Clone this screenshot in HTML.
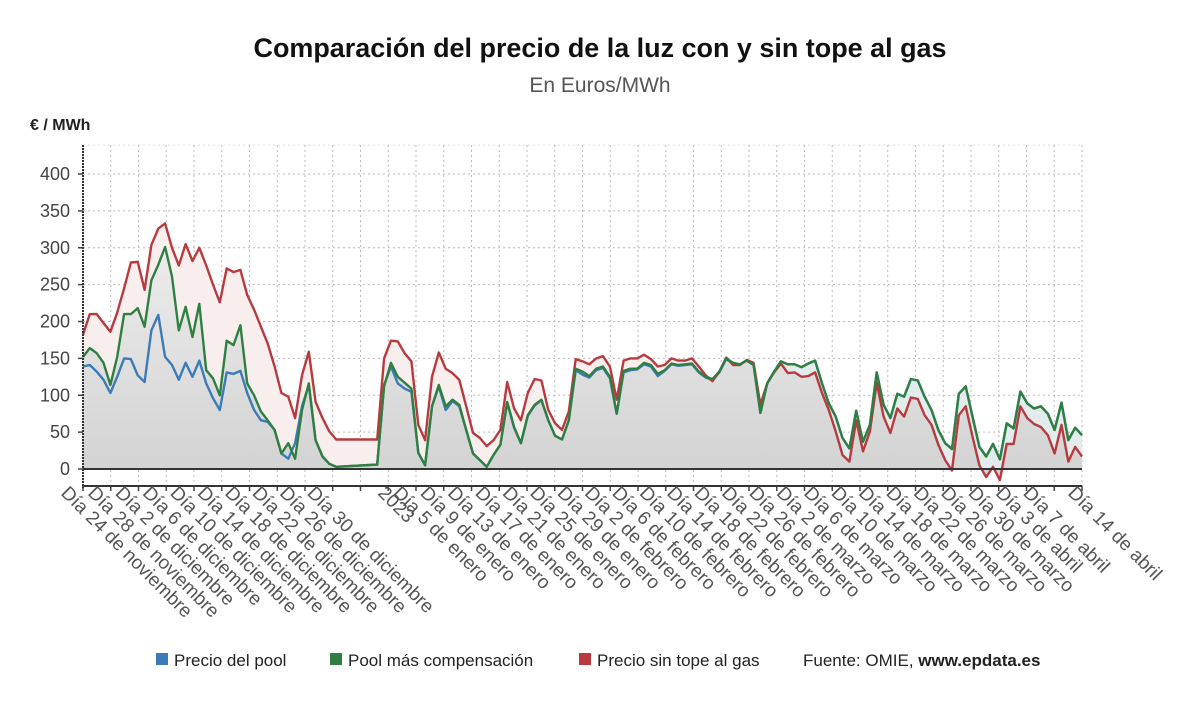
<!DOCTYPE html>
<html><head><meta charset="utf-8">
<style>
html,body{margin:0;padding:0;background:#fff;width:1200px;height:705px;overflow:hidden;font-family:"Liberation Sans",sans-serif;}
svg text{font-family:"Liberation Sans",sans-serif;}
</style></head>
<body>
<svg id="chart" width="1200" height="705" viewBox="0 0 1200 705" xmlns="http://www.w3.org/2000/svg">
<defs>
<linearGradient id="grayGrad" x1="0" y1="0" x2="0" y2="1">
<stop offset="0" stop-color="#ececec"/><stop offset="1" stop-color="#d2d2d2"/>
</linearGradient>
</defs>
<text x="600" y="57" text-anchor="middle" font-size="27" font-weight="bold" fill="#111" textLength="693" lengthAdjust="spacingAndGlyphs">Comparación del precio de la luz con y sin tope al gas</text>
<text x="600" y="92" text-anchor="middle" font-size="21" fill="#555">En Euros/MWh</text>
<text x="30" y="130" font-size="16" font-weight="bold" fill="#222">€ / MWh</text>
<g id="grid"></g>
<g id="areas"></g>
<g id="lines"></g>
<g id="axes"></g>
<g id="xlabels"></g>
<g>
<rect x="156" y="653" width="12" height="12" fill="#3b7bb8"/>
<text x="174" y="666" font-size="17" fill="#222">Precio del pool</text>
<rect x="330" y="653" width="12" height="12" fill="#2f8040"/>
<text x="348" y="666" font-size="17" fill="#222">Pool más compensación</text>
<rect x="579" y="653" width="12" height="12" fill="#b83a3e"/>
<text x="597" y="666" font-size="17" fill="#222">Precio sin tope al gas</text>
<text x="803" y="666" font-size="17" fill="#222">Fuente: OMIE, <tspan font-weight="bold">www.epdata.es</tspan></text>
</g>
</svg>
<script>
const redVals=[182,210,210,198,186,212,245,280,281,243,304,326,333,300,276,305,282,300,276,250,226,272,267,270,
236,216,193,170,139,103,98,69,127,159,91,69,51,40,40,40,40,40,40,40,150,174,173,157,146,60,39,125,158,136,130,121,85,49,42,31,39,53,118,82,66,103,122,120,80,62,53,78,
149,146,142,150,153,139,94,147,150,150,155,149,139,141,150,147,147,150,139,127,119,132,151,141,
141,148,144,87,116,131,143,130,131,125,126,131,103,80,51,19,10,66,24,51,117,71,49,82,
71,97,95,73,60,33,12,-2,73,85,44,5,-11,3,-15,34,34,85,69,61,57,46,21,60,10,30,17];
const greenVals=[152,164,157,144,114,152,210,210,218,193,256,277,301,261,188,220,179,224,134,123,100,174,168,195,
116,100,78,66,53,21,35,14,80,116,39,17,7,3,3.5,4,4.5,5,5.5,6,112,144,125,117,109,22,5,85,114,85,94,87,53,21,12,3,19,33,91,57,35,73,87,94,66,45,40,66,
136,132,126,136,139,125,75,133,136,136,144,141,129,134,143,141,142,143,132,125,122,132,150,144,
142,147,141,76,116,132,146,142,142,138,143,147,116,89,71,42,28,79,37,60,131,87,69,102,
98,122,120,98,80,53,35,27,102,112,71,30,17,34,13,62,55,105,89,82,85,75,53,90,39,56,46];
const blueVals=[139,141,132,121,103,125,150,149,127,118,188,209,152,141,121,144,125,147,116,96,80,131,129,133,
103,80,66,64,53,21,14,35,85,114,39,17,7,3,3.5,4,4.5,5,5.5,6,114,139,116,109,105,22,5,85,112,80,92,85,53,21,12,3,19,33,90,56,35,72,86,93,66,45,40,66,
134,128,124,134,137,123,75,131,134,135,142,139,126,133,142,140,141,142,131,124,121,131,149,143,
142,147,141,76,116,132,146,142,142,138,143,147,116,89,71,42,28,79,37,60,131,87,69,102,
98,122,120,98,80,53,35,27,102,112,71,30,17,34,13,62,55,105,89,82,85,75,53,90,39,56,46];
const yTicks=[0,50,100,150,200,250,300,350,400];
const labelsPre=["Día 28 de noviembre","Día 2 de diciembre","Día 6 de diciembre","Día 10 de diciembre","Día 14 de diciembre","Día 18 de diciembre","Día 22 de diciembre","Día 26 de diciembre","Día 30 de diciembre"];
const labelsPost=["Día 5 de enero","Día 9 de enero","Día 13 de enero","Día 17 de enero","Día 21 de enero","Día 25 de enero","Día 29 de enero","Día 2 de febrero","Día 6 de febrero","Día 10 de febrero","Día 14 de febrero","Día 18 de febrero","Día 22 de febrero","Día 26 de febrero","Día 2 de marzo","Día 6 de marzo","Día 10 de marzo","Día 14 de marzo","Día 18 de marzo","Día 22 de marzo","Día 26 de marzo","Día 30 de marzo","Día 3 de abril","Día 7 de abril"];
const NS="http://www.w3.org/2000/svg";
const X0=83,X1=1082,Y0=469,PX=0.7375;
const N=redVals.length;
function xs(i){return X0+i*(X1-X0)/(N-1);}
function ys(v){return Y0-v*PX;}
function mk(tag,attrs,parent){const e=document.createElementNS(NS,tag);for(const k in attrs)e.setAttribute(k,attrs[k]);parent.appendChild(e);return e;}
const grid=document.getElementById('grid'),areas=document.getElementById('areas'),lines=document.getElementById('lines'),axes=document.getElementById('axes'),xl=document.getElementById('xlabels');
yTicks.forEach(t=>{
 if(t>0){const g=mk('line',{x1:X0,x2:X1,y1:ys(t),y2:ys(t),stroke:'#bbb','stroke-dasharray':'2,3','stroke-width':1},grid);
 
 }
 const tx=mk('text',{x:70,y:ys(t)+6,'text-anchor':'end','font-size':18,fill:'#444'},axes);
 tx.textContent=t;
 
 
 mk('line',{x1:X0-5,x2:X0,y1:ys(t),y2:ys(t),stroke:'#444','stroke-width':1.5},axes);
});
mk('line',{x1:X0,x2:X1,y1:ys(450)+8,y2:ys(450)+8,stroke:'#ddd','stroke-dasharray':'2,3'},grid);
for(let k=0;k<=36;k++){
 const x=X0+k*(X1-X0)/36;
 const g=mk('line',{x1:x,x2:x,y1:145,y2:486,stroke:'#bbb','stroke-dasharray':'2,3','stroke-width':1},grid);
 
 
 mk('line',{x1:x,x2:x,y1:486,y2:491,stroke:'#444','stroke-width':1.5},axes);
}
function pts(arr){return arr.map((v,i)=>xs(i).toFixed(1)+','+ys(v).toFixed(1));}
function areaPath(arr){return 'M'+xs(0)+','+Y0+' L'+pts(arr).join(' L')+' L'+xs(N-1)+','+Y0+' Z';}
const minVals=redVals.map((v,i)=>Math.min(v,greenVals[i]));
const a1=mk('path',{d:areaPath(redVals),fill:'#f8eeee'},areas);


const a2=mk('path',{d:areaPath(greenVals),fill:'#e2ecec'},areas);


const a3=mk('path',{d:areaPath(minVals),fill:'url(#grayGrad)'},areas);


[[blueVals,'#3b7bb8','line-pool'],[redVals,'#b83a3e','line-no-cap'],[greenVals,'#2f8040','line-compensation']].forEach(([arr,c,n])=>{
 const p=mk('polyline',{points:pts(arr).join(' '),fill:'none',stroke:c,'stroke-width':2.4,'stroke-linejoin':'round'},lines);
 
 
});
const z=mk('line',{x1:X0,x2:X1,y1:Y0,y2:Y0,stroke:'#333','stroke-width':2},axes);


const xa=mk('line',{x1:X0,x2:X1,y1:486,y2:486,stroke:'#333','stroke-width':2},axes);


const ya=mk('line',{x1:X0,x2:X0,y1:145,y2:488,stroke:'#333','stroke-width':2,'stroke-dasharray':'2,1'},axes);


function lab(txt,x){
 const t=mk('text',{x:x,y:494,'font-size':19,fill:'#555',transform:'rotate(45 '+x+' 494)'},xl);
 t.textContent=txt;
 
 
}
lab('Día 24 de noviembre',60);
labelsPre.forEach((s,k)=>lab(s,87+27.4*k));
lab('2023',377);
labelsPost.forEach((s,j)=>lab(s,392+27.4*j));
lab('Día 14 de abril',1067);
</script>
</body></html>
